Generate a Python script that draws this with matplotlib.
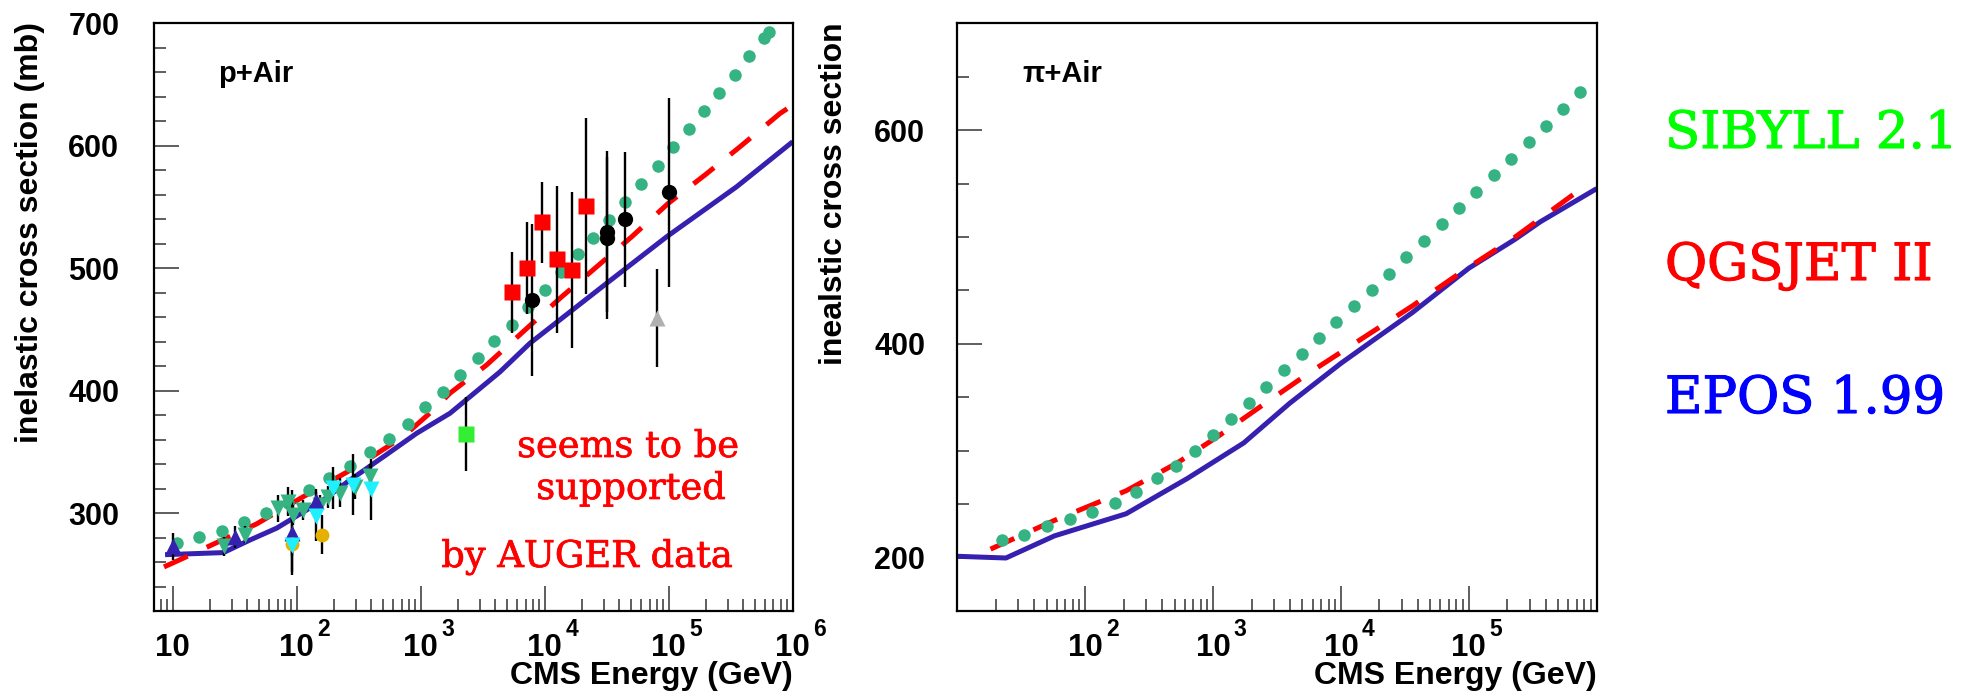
import matplotlib
matplotlib.use("Agg")
from matplotlib import pyplot as plt
from matplotlib import patheffects
from matplotlib.ticker import LogLocator, MultipleLocator, NullFormatter, FixedLocator

# ---------------- p + Air ----------------
sib_p_E = [10.8, 16.4, 25.0, 37.8, 56.9, 85.5, 126, 183, 267, 393, 556, 785, 1080, 1520,
           2070, 2890, 3920, 5460, 7330, 1.0e4, 1.36e4, 1.84e4, 2.44e4, 3.31e4, 4.45e4,
           6.03e4, 8.17e4, 1.08e5, 1.46e5, 1.92e5, 2.55e5, 3.42e5, 4.47e5, 5.87e5, 6.46e5]
sib_p_sig = [275.4, 280.8, 285.5, 292.6, 300.4, 308.6, 318.7, 328.5, 338.5, 350, 360.3, 373,
             386.4, 399, 412.7, 426.4, 440.2, 453.3, 468.1, 482.2, 497.1, 511.2, 525, 539.5,
             554, 568.5, 583.7, 598.9, 613.4, 628.3, 643.1, 658, 673.2, 688, 693.1]

qgs_p_E = [8.5, 12.2, 19.4, 47.6, 120, 305, 724, 1265, 1722, 3404, 6934, 13270, 25470,
           50350, 99300, 196000, 376000, 791000, 1.0e6]
qgs_p_sig = [256, 263.2, 272.7, 291.2, 314.9, 338, 362.5, 384.2, 397.9, 421, 449.5, 475.4,
             500, 525.7, 553, 576.1, 599.2, 626.4, 633.2]

epos_p_E = [8.67, 25.6, 42, 69, 164, 269, 501, 929, 1722, 4345, 7600, 31620, 96400,
            353000, 1.0e6]
epos_p_sig = [266, 267.7, 278, 287.7, 310.8, 327, 346, 365.2, 381.5, 415.2, 438.7, 487.7,
              525.7, 566.5, 603.3]

# measurements
navy_E = [10, 31.9, 91.2, 143]
navy_sig = [272.7, 280.8, 284, 310]
navy_err = [11, 9, 35, 10]

tri_green_E = [26, 38.5, 71.1, 85.5, 93.8, 113, 154, 180, 224, 295, 389]
tri_green_sig = [272.7, 282.2, 304, 309.4, 298.5, 302.6, 306.7, 313.5, 316.7, 321.6, 330]
tri_green_err = [8, 7, 11, 12, 8, 8, 8, 9, 12, 10, 10]

cyan_E = [91.2, 142, 197, 286, 398]
cyan_sig = [274, 297.2, 320.3, 323, 319.5]
cyan_err = [22, 20, 17, 25, 25]

yellow_E = [91.2, 161]
yellow_sig = [274.8, 282.2]
yellow_err = [10, 16]

green_sq_E = [2300]
green_sq_sig = [364.5]
green_sq_err = [30]

red_sq_E = [5420, 7190, 9460, 12500, 16600, 21600]
red_sq_sig = [480.3, 500, 537.5, 507.3, 498.5, 550.5]
red_sq_err = [33, 37.5, 33, 60, 64, 72]

black_E = [7940, 31600, 31600, 44700, 100000]
black_sig = [474, 529.8, 524.4, 540, 562]
black_err = [62, 66, 66, 55, 77]

grey_E = [80000]
grey_sig = [459]
grey_err = [40]

# ---------------- pi + Air ----------------
sib_pi_E = [22.3, 33.4, 50.1, 75.9, 113, 171, 249, 363, 515, 724, 1000, 1393, 1905, 2606,
            3565, 4920, 6730, 9200, 12590, 17380, 23770, 32510, 44460, 61380, 83950,
            114800, 157000, 214800, 293800, 401800, 544500, 744700]
sib_pi_sig = [216.1, 221.5, 229.4, 236, 243.1, 251.3, 261.7, 274.1, 285.7, 299.8, 314.3,
              329.6, 344.9, 359.8, 375.2, 390.9, 405.4, 420.7, 435.6, 450.5, 465.8, 481.2,
              496.5, 511.8, 527.1, 542.4, 557.8, 573.1, 588.8, 604.1, 619.9, 635.6]

qgs_pi_E = [18.2, 57.5, 209, 525, 1096, 2291, 5754, 14450, 36310, 91200, 229000, 758600]
qgs_pi_sig = [207.9, 234.8, 262.5, 288.6, 313.5, 340.4, 373.5, 404.6, 435.6, 468.7, 499.8,
              545.3]

epos_pi_E = [10, 24, 57.5, 209, 631, 1738, 3981, 10000, 17380, 36310, 1.0e5, 229000,
             363000, 1.0e6]
epos_pi_sig = [201.2, 199.6, 220.3, 241, 274.1, 307.3, 344.5, 381.8, 402.3, 429.4, 470.8,
               497.7, 514.3, 545.3]

W, H = 1975, 695
SIB_COL = "#35b383"
QGS_COL = "#ff0000"
EPOS_COL = "#3520b0"

plt.rcParams["font.family"] = ["Liberation Sans", "DejaVu Sans"]

fig = plt.figure(figsize=(W / 100, H / 100), dpi=100)
ax1 = fig.add_axes([154 / W, 1 - 611 / H, (792.7 - 154) / W, (611 - 23.3) / H])
ax2 = fig.add_axes([957.3 / W, 1 - 611 / H, (1596.7 - 957.3) / W, (611 - 23.3) / H])


def draw_models(ax, sE, ss, qE, qs, eE, es):
    ax.plot(eE, es, color=EPOS_COL, lw=3.6, zorder=2, solid_capstyle="butt")
    ax.plot(qE, qs, color=QGS_COL, lw=3.6, ls=(0, (5.2, 4.2)), zorder=2, dash_capstyle="butt")
    ax.plot(sE, ss, "o", color=SIB_COL, ms=9, mec="none", zorder=3)


draw_models(ax1, sib_p_E, sib_p_sig, qgs_p_E, qgs_p_sig, epos_p_E, epos_p_sig)
draw_models(ax2, sib_pi_E, sib_pi_sig, qgs_pi_E, qgs_pi_sig, epos_pi_E, epos_pi_sig)

eb = dict(ecolor="black", elinewidth=1.7, capsize=0, ls="none", zorder=4)
ax1.errorbar(tri_green_E, tri_green_sig, yerr=tri_green_err, fmt="v", color=SIB_COL, ms=11, mec="none", **eb)
ax1.errorbar(navy_E, navy_sig, yerr=navy_err, fmt="^", color=EPOS_COL, ms=12, mec="none", **eb)
ax1.errorbar(yellow_E, yellow_sig, yerr=yellow_err, fmt="o", color="#e6b000", ms=10, mec="none", **eb)
ax1.errorbar(cyan_E, cyan_sig, yerr=cyan_err, fmt="v", color="#1ff0ff", ms=11.5, mec="none", **eb)
ax1.errorbar(green_sq_E, green_sq_sig, yerr=green_sq_err, fmt="s", color="#33ee33", ms=11, mec="none", **eb)
ax1.errorbar(grey_E, grey_sig, yerr=grey_err, fmt="^", color="#b0b0b0", ms=11, mec="none", **eb)
ax1.errorbar(red_sq_E, red_sq_sig, yerr=red_sq_err, fmt="s", color="#ff0000", ms=11.5, mec="none", **eb)
ax1.errorbar(black_E, black_sig, yerr=black_err, fmt="o", color="black", ms=11, mec="none", **eb)

# axes styling
ax1.set_xlim(7.06, 1.0e6)
ax1.set_ylim(220, 700)
ax1.set_yticks([300, 400, 500, 600, 700])
ax1.yaxis.set_minor_locator(MultipleLocator(20))
ax2.set_xlim(10, 1.0e6)
ax2.set_ylim(150, 700)
ax2.set_yticks([200, 400, 600])
ax2.yaxis.set_minor_locator(MultipleLocator(50))

for ax in (ax1, ax2):
    ax.set_xscale("log")
    ax.xaxis.set_major_locator(FixedLocator([10, 1e2, 1e3, 1e4, 1e5, 1e6]))
    ax.xaxis.set_minor_locator(LogLocator(base=10, subs=range(2, 10), numticks=20))
    ax.xaxis.set_major_formatter(NullFormatter())
    ax.xaxis.set_minor_formatter(NullFormatter())
    ax.tick_params(which="both", direction="in", top=False, right=False, width=1.1, color="#333333")
    ax.tick_params(which="major", length=18)
    ax.tick_params(which="minor", length=8.5)
    ax.tick_params(axis="y", which="major", pad=25, labelsize=22)
    for lab in ax.get_yticklabels():
        lab.set_fontweight("bold")
    for sp in ax.spines.values():
        sp.set_linewidth(1.6)

ax2.tick_params(axis="y", which="major", pad=23)


def decade_labels(ax, exps):
    for n in exps:
        x = 10.0 ** n
        ax.annotate("10", xy=(x, 0), xycoords=("data", "axes fraction"), xytext=(0, -16),
                    textcoords="offset points", ha="center", va="top", fontsize=22.5,
                    fontweight="bold")
        if n > 1:
            ax.annotate(str(n), xy=(x, 0), xycoords=("data", "axes fraction"), xytext=(15, -5),
                        textcoords="offset points", ha="left", va="top", fontsize=16.5,
                        fontweight="bold")


decade_labels(ax1, [1, 2, 3, 4, 5, 6])
decade_labels(ax2, [2, 3, 4, 5])

# axis titles
fig.text(792.7 / W, 1 - 676 / H, "CMS Energy (GeV)", ha="right", va="center", fontsize=23, fontweight="bold")
fig.text(1596.7 / W, 1 - 676 / H, "CMS Energy (GeV)", ha="right", va="center", fontsize=23, fontweight="bold")
fig.text(30 / W, 1 - 22 / H, "inelastic cross section (mb)", rotation=90, ha="center", va="top",
         fontsize=23, fontweight="bold")
fig.text(834 / W, 1 - 22 / H, "inealstic cross section", rotation=90, ha="center", va="top",
         fontsize=23, fontweight="bold")

fig.text(218 / W, 1 - 82 / H, "p+Air", ha="left", va="baseline", fontsize=21, fontweight="bold")
fig.text(1022 / W, 1 - 82 / H, "\u03c0+Air", ha="left", va="baseline", fontsize=21, fontweight="bold")

# serif annotations, slightly thickened to look like the heavier original face
serif = ["DejaVu Serif"]


def heavy(color, w):
    return [patheffects.withStroke(linewidth=w, foreground=color)]


fig.text(628 / W, 1 - 457 / H, "seems to be", ha="center", va="baseline", fontsize=26.5, color="#ff0000",
         family=serif, path_effects=heavy("#ff0000", 0.5))
fig.text(631 / W, 1 - 499 / H, "supported", ha="center", va="baseline", fontsize=26.5, color="#ff0000",
         family=serif, path_effects=heavy("#ff0000", 0.5))
fig.text(587 / W, 1 - 567 / H, "by AUGER data", ha="center", va="baseline", fontsize=26.5, color="#ff0000",
         family=serif, path_effects=heavy("#ff0000", 0.5))

fig.text(1665 / W, 1 - 148 / H, "SIBYLL 2.1", ha="left", va="baseline", fontsize=37, color="#00ff00",
         family=serif, path_effects=heavy("#00ff00", 0.8))
fig.text(1665 / W, 1 - 280 / H, "QGSJET II", ha="left", va="baseline", fontsize=37, color="#ff0000",
         family=serif, path_effects=heavy("#ff0000", 0.8))
fig.text(1665 / W, 1 - 413 / H, "EPOS 1.99", ha="left", va="baseline", fontsize=37, color="#0000ff",
         family=serif, path_effects=heavy("#0000ff", 0.8))

fig.savefig("out.png", dpi=100)
